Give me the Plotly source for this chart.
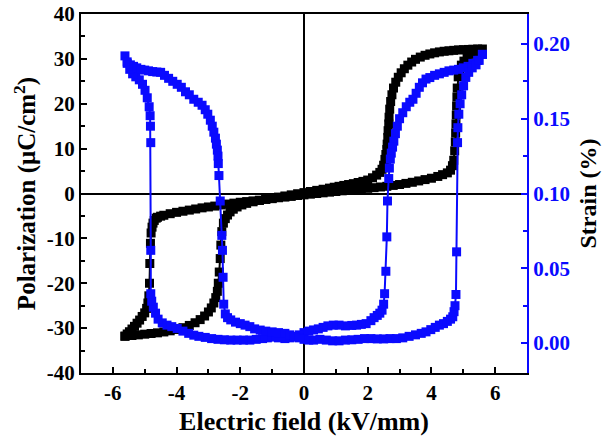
import plotly.graph_objects as go

# ---------------- Polarization loop (black, left axis) ----------------
pe_field = [
    -5.62, -5.55, -5.48, -5.40, -5.32, -5.24, -5.16, -5.08, -5.00, -4.94, -4.90, -4.87,
    -4.85, -4.84, -4.82, -4.80,
    -4.77, -4.74, -4.70, -4.64, -4.60, -4.50, -4.40, -4.20, -4.00, -3.80, -3.60, -3.40,
    -3.20, -3.00, -2.80, -2.60, -2.40, -2.20, -2.00, -1.80, -1.60, -1.40, -1.20, -1.00,
    -0.80, -0.60, -0.40, -0.20, 0.00, 0.20, 0.40, 0.60, 0.80, 1.00, 1.20, 1.40, 1.60,
    1.80, 2.00, 2.20, 2.40, 2.60, 2.80, 3.00, 3.20, 3.40, 3.60, 3.80, 4.00, 4.20, 4.35,
    4.50, 4.60, 4.66, 4.70,
    4.73, 4.75, 4.76, 4.77, 4.78, 4.79, 4.80, 4.81, 4.84,
    4.88, 4.94, 5.02, 5.12, 5.24, 5.36, 5.48, 5.60,
    5.45, 5.30, 5.15, 5.00, 4.85, 4.70, 4.55, 4.40, 4.25, 4.10, 3.95, 3.80, 3.65, 3.50,
    3.38, 3.26, 3.15, 3.05, 2.96, 2.88, 2.81, 2.76, 2.72, 2.69,
    2.67, 2.66, 2.64, 2.63, 2.61, 2.60, 2.57,
    2.54, 2.50, 2.45, 2.38, 2.28, 2.15, 2.00, 1.85, 1.70, 1.55, 1.40, 1.25, 1.10, 0.95,
    0.80, 0.60, 0.40, 0.20, 0.00, -0.20, -0.40, -0.60, -0.80, -1.00, -1.20, -1.40, -1.60,
    -1.80, -1.95, -2.10, -2.22, -2.32, -2.40, -2.47, -2.53,
    -2.58, -2.61, -2.63, -2.66, -2.69,
    -2.72, -2.77, -2.83, -2.91, -3.00, -3.12, -3.26, -3.42, -3.60, -3.80, -4.00, -4.20,
    -4.40, -4.60, -4.80, -5.00, -5.20, -5.40, -5.62,
]
pe_polarization = [
    -31.8, -31.3, -30.8, -30.2, -29.6, -28.9, -28.2, -27.4, -26.6, -25.6, -24.4, -22.8,
    -20.0, -15.6, -11.1, -8.8,
    -7.5, -6.6, -6.0, -5.5, -5.3, -5.05, -4.85, -4.5, -4.2, -3.95, -3.7, -3.45,
    -3.2, -3.0, -2.8, -2.55, -2.35, -2.15, -1.95, -1.8, -1.65, -1.5, -1.3, -1.15,
    -0.95, -0.8, -0.65, -0.45, -0.3, -0.15, 0.0, 0.15, 0.3, 0.45, 0.6, 0.75, 0.9,
    1.0, 1.15, 1.3, 1.45, 1.6, 1.8, 2.0, 2.25, 2.5, 2.8, 3.1, 3.4, 3.8, 4.2,
    4.6, 5.2, 6.2, 7.4,
    9.5, 11.5, 13.5, 15.5, 17.5, 19.5, 21.5, 23.5, 26.0,
    27.6, 28.6, 29.5, 30.3, 31.0, 31.5, 31.9, 32.2,
    32.2, 32.15, 32.1, 32.05, 32.0, 31.9, 31.8, 31.7, 31.55, 31.35, 31.1, 30.8, 30.4, 29.9,
    29.3, 28.6, 27.8, 26.9, 25.9, 24.8, 23.5, 22.0, 20.5, 18.8,
    17.0, 15.5, 14.0, 12.5, 11.0, 9.8, 8.7,
    7.6, 6.3, 5.4, 4.7, 4.1, 3.5, 3.0, 2.7, 2.45, 2.2, 2.0, 1.8, 1.6, 1.4,
    1.2, 0.95, 0.7, 0.45, 0.2, -0.05, -0.3, -0.55, -0.8, -1.05, -1.3, -1.55, -1.85,
    -2.2, -2.55, -3.0, -3.5, -4.1, -4.8, -5.6, -6.6,
    -8.5, -11.5, -14.5, -17.5, -20.0,
    -21.8, -23.2, -24.4, -25.5, -26.4, -27.3, -28.1, -28.8, -29.4, -29.9, -30.3, -30.6,
    -30.85, -31.05, -31.2, -31.35, -31.5, -31.65, -31.8,
]

# ---------------- Strain butterfly (blue, right axis) ----------------
st_field = [
    5.60, 5.45, 5.30, 5.15, 5.00, 4.85, 4.70, 4.55, 4.40, 4.25, 4.10, 3.95, 3.83, 3.72,
    3.62, 3.52, 3.42, 3.32, 3.21, 3.10, 3.00, 2.93, 2.87, 2.82, 2.78, 2.74, 2.71,
    2.68, 2.66, 2.62, 2.60, 2.57, 2.53,
    2.50, 2.45, 2.38, 2.30, 2.20, 2.10, 1.95, 1.80, 1.65, 1.50, 1.30, 1.10, 0.92, 0.75,
    0.60, 0.45, 0.30, 0.15, 0.00, -0.15, -0.30, -0.45, -0.60, -0.80, -0.97, -1.15, -1.30,
    -1.50, -1.70, -1.90, -2.10, -2.30, -2.50, -2.70, -2.90, -3.10, -3.30, -3.46, -3.62,
    -3.80, -3.98, -4.15, -4.30, -4.45, -4.58, -4.66, -4.73, -4.78,
    -4.81, -4.81, -4.81,
    -4.82, -4.83, -4.86, -4.92, -4.99, -5.07, -5.17, -5.28, -5.38, -5.47, -5.55, -5.62,
    -5.55, -5.45, -5.35, -5.25, -5.12, -5.00, -4.88, -4.75, -4.62, -4.50, -4.38, -4.25,
    -4.12, -3.98, -3.85, -3.72, -3.60, -3.46, -3.32, -3.20, -3.10, -3.02, -2.94, -2.88,
    -2.83, -2.78, -2.75, -2.72,
    -2.70, -2.69, -2.67, -2.63, -2.58, -2.56, -2.54, -2.52,
    -2.47, -2.40, -2.30, -2.15, -2.00, -1.85, -1.70, -1.55, -1.375, -1.20, -1.00, -0.80,
    -0.60, -0.45, -0.30, -0.15, 0.00, 0.15, 0.30, 0.50, 0.70, 0.90, 1.10, 1.30, 1.50,
    1.70, 1.90, 2.10, 2.30, 2.50, 2.70, 2.90, 3.10, 3.30, 3.50, 3.68, 3.83, 3.98, 4.12,
    4.25, 4.38, 4.50, 4.60, 4.67, 4.71, 4.74, 4.77,
    4.79, 4.82,
    4.83, 4.86, 4.90, 4.95, 5.01, 5.08, 5.17, 5.28, 5.40, 5.50, 5.60,
]
st_strain = [
    0.193, 0.189, 0.187, 0.185, 0.184, 0.183, 0.1825, 0.182, 0.181, 0.180, 0.179, 0.1775, 0.1765, 0.174,
    0.171, 0.167, 0.163, 0.161, 0.158, 0.154, 0.150, 0.145, 0.140, 0.135, 0.131, 0.127, 0.123,
    0.117, 0.110, 0.095, 0.071, 0.048, 0.033,
    0.026, 0.022, 0.020, 0.0185, 0.017, 0.015, 0.013, 0.0125, 0.012, 0.0118, 0.0115, 0.012, 0.012, 0.0115,
    0.0105, 0.0095, 0.0088, 0.008, 0.007, 0.0055, 0.004, 0.0035, 0.003, 0.0035, 0.004, 0.0035, 0.003,
    0.0025, 0.002, 0.002, 0.002, 0.002, 0.0022, 0.0025, 0.003, 0.0038, 0.0045, 0.0053, 0.0065,
    0.008, 0.0098, 0.011, 0.012, 0.0135, 0.016, 0.020, 0.024, 0.028,
    0.033, 0.062, 0.134,
    0.145, 0.152, 0.158, 0.164, 0.169, 0.173, 0.176, 0.178, 0.180, 0.183, 0.187, 0.192,
    0.188, 0.186, 0.185, 0.184, 0.183, 0.1825, 0.182, 0.1815, 0.1812, 0.181, 0.179, 0.177,
    0.175, 0.173, 0.171, 0.168, 0.166, 0.163, 0.161, 0.159, 0.156, 0.153, 0.149, 0.145,
    0.141, 0.137, 0.133, 0.129,
    0.125, 0.120, 0.112, 0.095, 0.072, 0.062, 0.044, 0.026,
    0.0195, 0.017, 0.0155, 0.014, 0.013, 0.012, 0.011, 0.0095, 0.0087, 0.008, 0.0075, 0.007,
    0.0065, 0.0055, 0.0045, 0.0035, 0.0025, 0.002, 0.002, 0.0025, 0.002, 0.0015, 0.0015, 0.002, 0.0022,
    0.0025, 0.003, 0.003, 0.0028, 0.0028, 0.003, 0.003, 0.0035, 0.0045, 0.0055, 0.0065, 0.0075, 0.009, 0.0105,
    0.012, 0.013, 0.0145, 0.016, 0.0176, 0.021, 0.025, 0.0325,
    0.061, 0.134,
    0.144, 0.153, 0.160, 0.166, 0.172, 0.1776, 0.181, 0.184, 0.186, 0.189, 0.193,
]

x_ticks = [-6, -4, -2, 0, 2, 4, 6]
p_ticks = [-40, -30, -20, -10, 0, 10, 20, 30, 40]
s_ticks = [0.00, 0.05, 0.10, 0.15, 0.20]

BLUE = "#0a0aff"
FONT = "Times New Roman, Liberation Serif, serif"

fig = go.Figure()
fig.add_trace(go.Scatter(
    x=pe_field, y=pe_polarization, mode="lines+markers",
    line=dict(color="black", width=2),
    marker=dict(symbol="square", size=9, color="black"),
    showlegend=False, yaxis="y",
))
fig.add_trace(go.Scatter(
    x=st_field, y=st_strain, mode="lines+markers",
    line=dict(color=BLUE, width=2),
    marker=dict(symbol="square", size=9, color=BLUE),
    showlegend=False, yaxis="y2",
))

fig.update_layout(
    width=605, height=437,
    margin=dict(l=81, r=78, t=14, b=64, autoexpand=False),
    plot_bgcolor="white", paper_bgcolor="white",
    font=dict(family=FONT, color="black"),
    xaxis=dict(
        range=[-7, 7], tickvals=x_ticks, ticktext=[str(v) for v in x_ticks],
        automargin=False,
        ticks="inside", ticklen=6, tickwidth=2, tickcolor="black",
        minor=dict(ticks="inside", ticklen=4, tickwidth=2, dtick=1, tick0=0, tickcolor="black"),
        showline=True, linecolor="black", linewidth=2, mirror=True,
        showgrid=False, zeroline=True, zerolinecolor="black", zerolinewidth=1.5,
        tickfont=dict(size=21, family=FONT, weight="bold", color="black"),
        title=dict(text="Electric field (kV/mm)", standoff=8,
                   font=dict(size=26, family=FONT, weight="bold", color="black")),
    ),
    yaxis=dict(
        range=[-40, 40], tickvals=p_ticks, ticktext=[str(v) for v in p_ticks],
        automargin=False,
        ticks="inside", ticklen=6, tickwidth=2, tickcolor="black",
        minor=dict(ticks="inside", ticklen=4, tickwidth=2, dtick=5, tick0=0, tickcolor="black"),
        showline=True, linecolor="black", linewidth=2,
        showgrid=False, zeroline=True, zerolinecolor="black", zerolinewidth=1.5,
        tickfont=dict(size=21, family=FONT, weight="bold", color="black"),
        title=dict(text="Polarization (μC/cm<sup>2</sup>)", standoff=4,
                   font=dict(size=25, family=FONT, weight="bold", color="black")),
    ),
    yaxis2=dict(
        overlaying="y", side="right", range=[-0.02, 0.22],
        automargin=False,
        tickvals=s_ticks, ticktext=[f"{v:.2f}" for v in s_ticks],
        ticks="inside", ticklen=6, tickwidth=2, tickcolor=BLUE,
        minor=dict(ticks="inside", ticklen=4, tickwidth=2, dtick=0.025, tick0=0, tickcolor=BLUE),
        showline=True, linecolor=BLUE, linewidth=2,
        showgrid=False, zeroline=False,
        tickfont=dict(size=21, family=FONT, weight="bold", color=BLUE),
        title=dict(text="Strain (%)", standoff=10,
                   font=dict(size=24, family=FONT, weight="bold", color="black")),
    ),
)

fig.write_html("out.html", config={"displayModeBar": False},
               post_script="document.body.style.margin='0px';")
